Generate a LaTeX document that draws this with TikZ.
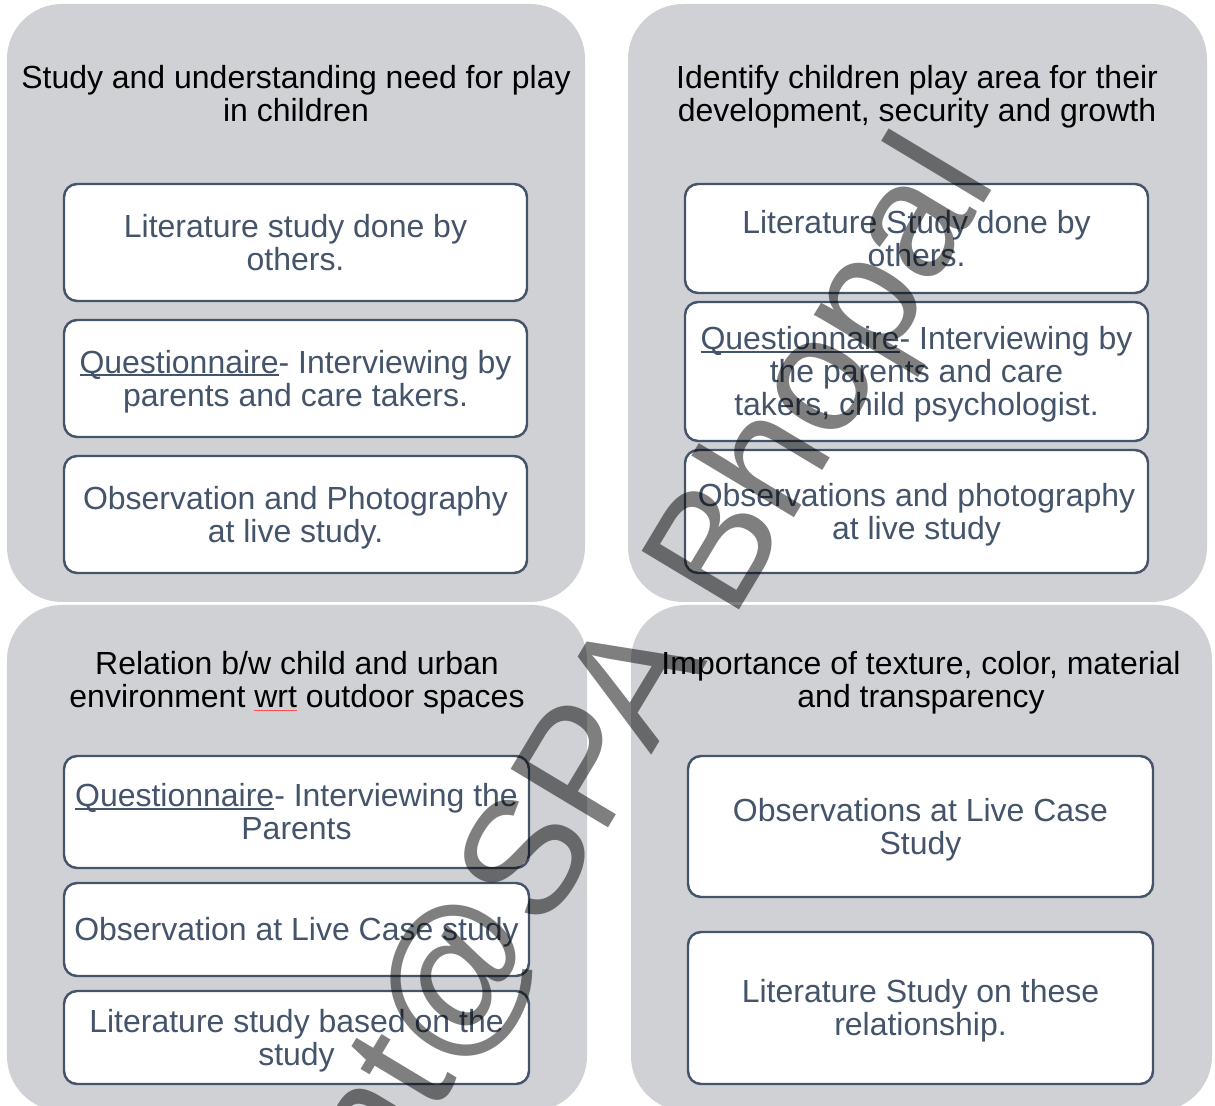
\documentclass[tikz,border=0pt]{standalone}
\usepackage{fontspec}
\setmainfont{Liberation Sans}

\definecolor{panelgrey}{HTML}{D0D1D5}
\definecolor{slate}{HTML}{44546A}
% underlines that keep the line spacing
\newcommand{\qline}[1]{\setbox0\hbox{#1}\rlap{\rule[-0.1em]{\wd0}{0.065em}}\box0\relax}
\newcommand{\spellmark}[1]{\setbox0\hbox{#1}\rlap{\textcolor{red!70}{\rule[-0.13em]{\wd0}{0.04em}}}\box0\relax}
% full line height on the first line
\newcommand{\tstrut}{\rule{0pt}{0.905em}}

\begin{document}
\begin{tikzpicture}[
    lines/.style={font=\fontsize{9.1}{9.4}\selectfont, align=center, inner sep=0pt,
                  execute at end node={\rule[-0.212em]{0pt}{0pt}}},
    panel/.style={rounded corners=0.55cm, fill=panelgrey, inner sep=0pt},
    title/.style={lines, text=black},
    item/.style={lines, draw=slate, line width=0.7pt, rounded corners=0.13cm, fill=white, text=slate,
                 minimum width=4.63cm}]
    \clip (0,0) rectangle (12.15,-11.06);

    % Panels
    \node (pA) at (2.96,-3.03) [panel, minimum width=5.78cm, minimum height=5.98cm] {};
    \node (pB) at (9.175,-3.03) [panel, minimum width=5.79cm, minimum height=5.98cm] {};
    \node (pC) at (2.97,-8.58) [panel, minimum width=5.80cm, minimum height=5.06cm] {};
    \node (pD) at (9.215,-8.58) [panel, minimum width=5.81cm, minimum height=5.06cm] {};

    % Titles
    \node (tA) at (2.96,-0.935) [title] {\tstrut Study and understanding need for play\\in children};
    \node (tB) at (9.17,-0.935) [title] {\tstrut Identify children play area for their\\development, security and growth};
    \node (tC) at (2.97,-6.795) [title] {\tstrut Relation b/w child and urban\\environment \spellmark{wrt} outdoor spaces};
    \node (tD) at (9.21,-6.795) [title] {\tstrut Importance of texture, color, material\\and transparency};

    % Methods, top left
    \node (a1) at (2.955,-2.425) [item, minimum height=1.17cm] {\tstrut Literature study done by\\others.};
    \node (a2) at (2.955,-3.785) [item, minimum height=1.17cm] {\tstrut\qline{Questionnaire}- Interviewing by\\parents and care takers.};
    \node (a3) at (2.955,-5.145) [item, minimum height=1.17cm] {\tstrut Observation and Photography\\at live study.};

    % Methods, top right
    \node (b1) at (9.165,-2.385) [item, minimum height=1.09cm] {\tstrut Literature Study done by\\others.};
    \node (b2) at (9.165,-3.715) [item, minimum height=1.39cm] {\tstrut\qline{Questionnaire}- Interviewing by\\the parents and care\\takers, child psychologist.};
    \node (b3) at (9.165,-5.115) [item, minimum height=1.23cm] {\tstrut Observations and photography\\at live study};

    % Methods, bottom left
    \node (c1) at (2.965,-8.12) [item, minimum width=4.65cm, minimum height=1.12cm] {\tstrut\qline{Questionnaire}- Interviewing the\\Parents};
    \node (c2) at (2.965,-9.295) [item, minimum width=4.65cm, minimum height=0.93cm] {\tstrut Observation at Live Case study};
    \node (c3) at (2.965,-10.375) [item, minimum width=4.65cm, minimum height=0.93cm] {\tstrut Literature study based on the\\study};

    % Methods, bottom right
    \node (d1) at (9.205,-8.265) [item, minimum width=4.65cm, minimum height=1.41cm] {\tstrut Observations at Live Case\\Study};
    \node (d2) at (9.205,-10.08) [item, minimum width=4.65cm, minimum height=1.52cm] {\tstrut Literature Study on these\\relationship.};

    % Watermark across the sheet
    \node (mark) at (3.87,-11.96) [rotate=59, anchor=base west, inner sep=0pt, text=black, text opacity=0.5,
        font=\fontsize{47}{52}\selectfont] {nt@SPA Bhopal};
\end{tikzpicture}
\end{document}
